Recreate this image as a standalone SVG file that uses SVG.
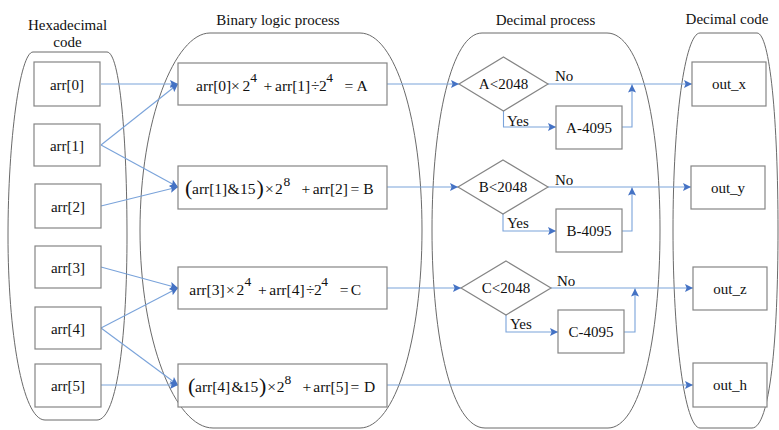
<svg xmlns="http://www.w3.org/2000/svg" width="779" height="430" viewBox="0 0 779 430" font-family="'Liberation Serif','Times New Roman',serif">
<style>
text{font-family:"Liberation Serif","Times New Roman",serif;fill:#111;}
.t{font-size:15px;text-anchor:middle;}
.lb{font-size:15px;text-anchor:middle;}
.fm{font-size:15.5px;}
.sup{font-size:13.5px;}
.par{font-size:22px;}
.cont{fill:none;stroke:#6a6a6a;stroke-width:1;}
.box{fill:#fff;stroke:#858585;stroke-width:1.2;}
.dia{fill:#fff;stroke:#858585;stroke-width:1.2;}
.cn{fill:none;stroke:#7aa3da;stroke-width:1.1;}
.ar{marker-end:url(#ah);}
.cl{font-size:15px;}
</style>
<defs>
<marker id="ah" viewBox="0 0 10 10" refX="10" refY="5" markerWidth="9" markerHeight="8" orient="auto" markerUnits="userSpaceOnUse">
<path d="M0,0 L10,5 L0,10 L2,5 z" fill="#4472c4"/>
</marker>
</defs>
<rect width="779" height="430" fill="#fff"/>

<g id="containers">
<path class="cont" d="M33 52 L107 52 C120 52 127 140 127 236 C127 330 118 420 97 420 L45 420 C22 420 8 330 8 236 C8 140 20 52 33 52 Z"/>
<path class="cont" d="M210 33 L360 33 C395 33 422 120 422 230 C422 340 395 428 360 428 L213 428 C175 428 140 340 140 230 C140 120 175 33 210 33 Z"/>
<path class="cont" d="M482 33 L607 33 C640 33 660 120 660 230 C660 340 640 428 608 428 L485 428 C452 428 432 340 432 230 C432 120 452 33 482 33 Z"/>
<path class="cont" d="M700 33 L757 33 C770 33 778 120 778 230 C778 340 770 428 752 428 L700 428 C685 428 673 340 673 230 C673 120 685 33 700 33 Z"/>
<text class="t" x="67.5" y="30">Hexadecimal</text>
<text class="t" x="67.5" y="47">code</text>
<text class="t" x="278" y="24.5">Binary logic process</text>
<text class="t" x="545.5" y="24.5">Decimal process</text>
<text class="t" x="727" y="24">Decimal code</text>
</g>

<g id="connectors">
<path class="cn ar" d="M101 84 L178 84"/>
<path class="cn ar" d="M101 145 L178 84"/>
<path class="cn ar" d="M101 145 L178 187"/>
<path class="cn ar" d="M101 206 L178 187"/>
<path class="cn ar" d="M101 267 L178 288"/>
<path class="cn ar" d="M101 328 L178 288"/>
<path class="cn ar" d="M101 328 L178 385"/>
<path class="cn ar" d="M101 385 L178 385"/>
<path class="cn ar" d="M387 84 L459 84"/>
<path class="cn ar" d="M387 187 L458 187"/>
<path class="cn ar" d="M387 288 L461 288"/>
<path class="cn ar" d="M387 385 L693 385"/>
<path class="cn ar" d="M548 84 L692 84"/>
<path class="cn ar" d="M503.5 111 V127 H556"/>
<path class="cn ar" d="M622 127 H632 V84.5"/>
<path class="cn ar" d="M548 187 L691 187"/>
<path class="cn ar" d="M503 214 V231 H556"/>
<path class="cn ar" d="M622 231 H632 V187.5"/>
<path class="cn ar" d="M551 288 L693 288"/>
<path class="cn ar" d="M506 315 V332 H558"/>
<path class="cn ar" d="M624 332 H635 V288.5"/>
<text class="cl" x="555" y="81">No</text>
<text class="cl" x="507" y="126">Yes</text>
<text class="cl" x="555" y="185">No</text>
<text class="cl" x="507" y="228">Yes</text>
<text class="cl" x="557" y="286">No</text>
<text class="cl" x="510" y="329">Yes</text>
</g>

<g id="arr0"><rect class="box" x="34" y="62" width="66" height="44"/><text class="lb" x="67" y="89.5">arr[0]</text></g>
<g id="arr1"><rect class="box" x="34" y="124" width="66" height="42"/><text class="lb" x="67" y="150.5">arr[1]</text></g>
<g id="arr2"><rect class="box" x="35" y="184" width="66" height="44"/><text class="lb" x="68" y="211.5">arr[2]</text></g>
<g id="arr3"><rect class="box" x="35" y="246" width="66" height="42"/><text class="lb" x="68" y="272.5">arr[3]</text></g>
<g id="arr4"><rect class="box" x="35" y="307" width="66" height="42"/><text class="lb" x="68" y="333.5">arr[4]</text></g>
<g id="arr5"><rect class="box" x="35" y="364" width="66" height="43"/><text class="lb" x="68" y="390.5">arr[5]</text></g>

<g id="formulaA"><rect class="box" x="178" y="63" width="209" height="42"/>
<text class="fm"><tspan x="196" y="90.5">arr[0]</tspan><tspan x="231" y="90.5">×</tspan><tspan x="242.5" y="90.5">2</tspan><tspan class="sup" x="250.3" y="82">4</tspan><tspan x="263.5" y="90.5">+</tspan><tspan x="275" y="90.5">arr[1]</tspan><tspan x="311" y="90.5">÷</tspan><tspan x="319" y="90.5">2</tspan><tspan class="sup" x="326.3" y="82">4</tspan><tspan x="344.5" y="90.5">=</tspan><tspan x="356.5" y="90.5">A</tspan></text></g>

<g id="formulaB"><rect class="box" x="178" y="166" width="209" height="43"/>
<text class="fm"><tspan class="par" x="185" y="195">(</tspan><tspan x="192" y="194">arr[1]</tspan><tspan x="227.5" y="194">&amp;</tspan><tspan x="240" y="194">15</tspan><tspan class="par" x="256.5" y="195">)</tspan><tspan x="265" y="194">×</tspan><tspan x="275" y="194">2</tspan><tspan class="sup" x="283.5" y="185.5">8</tspan><tspan x="301.5" y="194">+</tspan><tspan x="312.7" y="194">arr[2]</tspan><tspan x="350.5" y="194">=</tspan><tspan x="363.3" y="194">B</tspan></text></g>

<g id="formulaC"><rect class="box" x="178" y="267" width="209" height="42"/>
<text class="fm"><tspan x="189.3" y="294.5">arr[3]</tspan><tspan x="226" y="294.5">×</tspan><tspan x="236.5" y="294.5">2</tspan><tspan class="sup" x="244.5" y="286">4</tspan><tspan x="258" y="294.5">+</tspan><tspan x="269.3" y="294.5">arr[4]</tspan><tspan x="306" y="294.5">÷</tspan><tspan x="314" y="294.5">2</tspan><tspan class="sup" x="321.3" y="286">4</tspan><tspan x="339.7" y="294.5">=</tspan><tspan x="350.7" y="294.5">C</tspan></text></g>

<g id="formulaD"><rect class="box" x="178" y="364" width="209" height="43"/>
<text class="fm"><tspan class="par" x="188" y="393">(</tspan><tspan x="195" y="392">arr[4]</tspan><tspan x="231.5" y="392">&amp;</tspan><tspan x="242.7" y="392">15</tspan><tspan class="par" x="259" y="393">)</tspan><tspan x="267.3" y="392">×</tspan><tspan x="276.7" y="392">2</tspan><tspan class="sup" x="284.5" y="383.5">8</tspan><tspan x="302.5" y="392">+</tspan><tspan x="313.3" y="392">arr[5]</tspan><tspan x="350.5" y="392">=</tspan><tspan x="364" y="392">D</tspan></text></g>

<g id="decA"><path class="dia" d="M503.5 57 L548 84 L503.5 111 L459 84 Z"/><text class="lb" x="503.5" y="89">A&lt;2048</text></g>
<g id="subA"><rect class="box" x="556" y="106" width="66" height="43"/><text class="lb" x="589" y="132.5">A-4095</text></g>
<g id="decB"><path class="dia" d="M503 160 L548 187 L503 214 L458 187 Z"/><text class="lb" x="503" y="192">B&lt;2048</text></g>
<g id="subB"><rect class="box" x="556" y="209" width="66" height="43"/><text class="lb" x="589" y="236">B-4095</text></g>
<g id="decC"><path class="dia" d="M506 261 L551 288 L506 315 L461 288 Z"/><text class="lb" x="506" y="293">C&lt;2048</text></g>
<g id="subC"><rect class="box" x="558" y="310" width="66" height="43"/><text class="lb" x="591" y="337">C-4095</text></g>

<g id="outx"><rect class="box" x="692" y="62" width="74" height="44"/><text class="lb" x="729" y="89">out_x</text></g>
<g id="outy"><rect class="box" x="691" y="166" width="74" height="43"/><text class="lb" x="728" y="192.5">out_y</text></g>
<g id="outz"><rect class="box" x="693" y="267" width="74" height="43"/><text class="lb" x="730" y="293.5">out_z</text></g>
<g id="outh"><rect class="box" x="693" y="363" width="74" height="44"/><text class="lb" x="730" y="390">out_h</text></g>
</svg>
